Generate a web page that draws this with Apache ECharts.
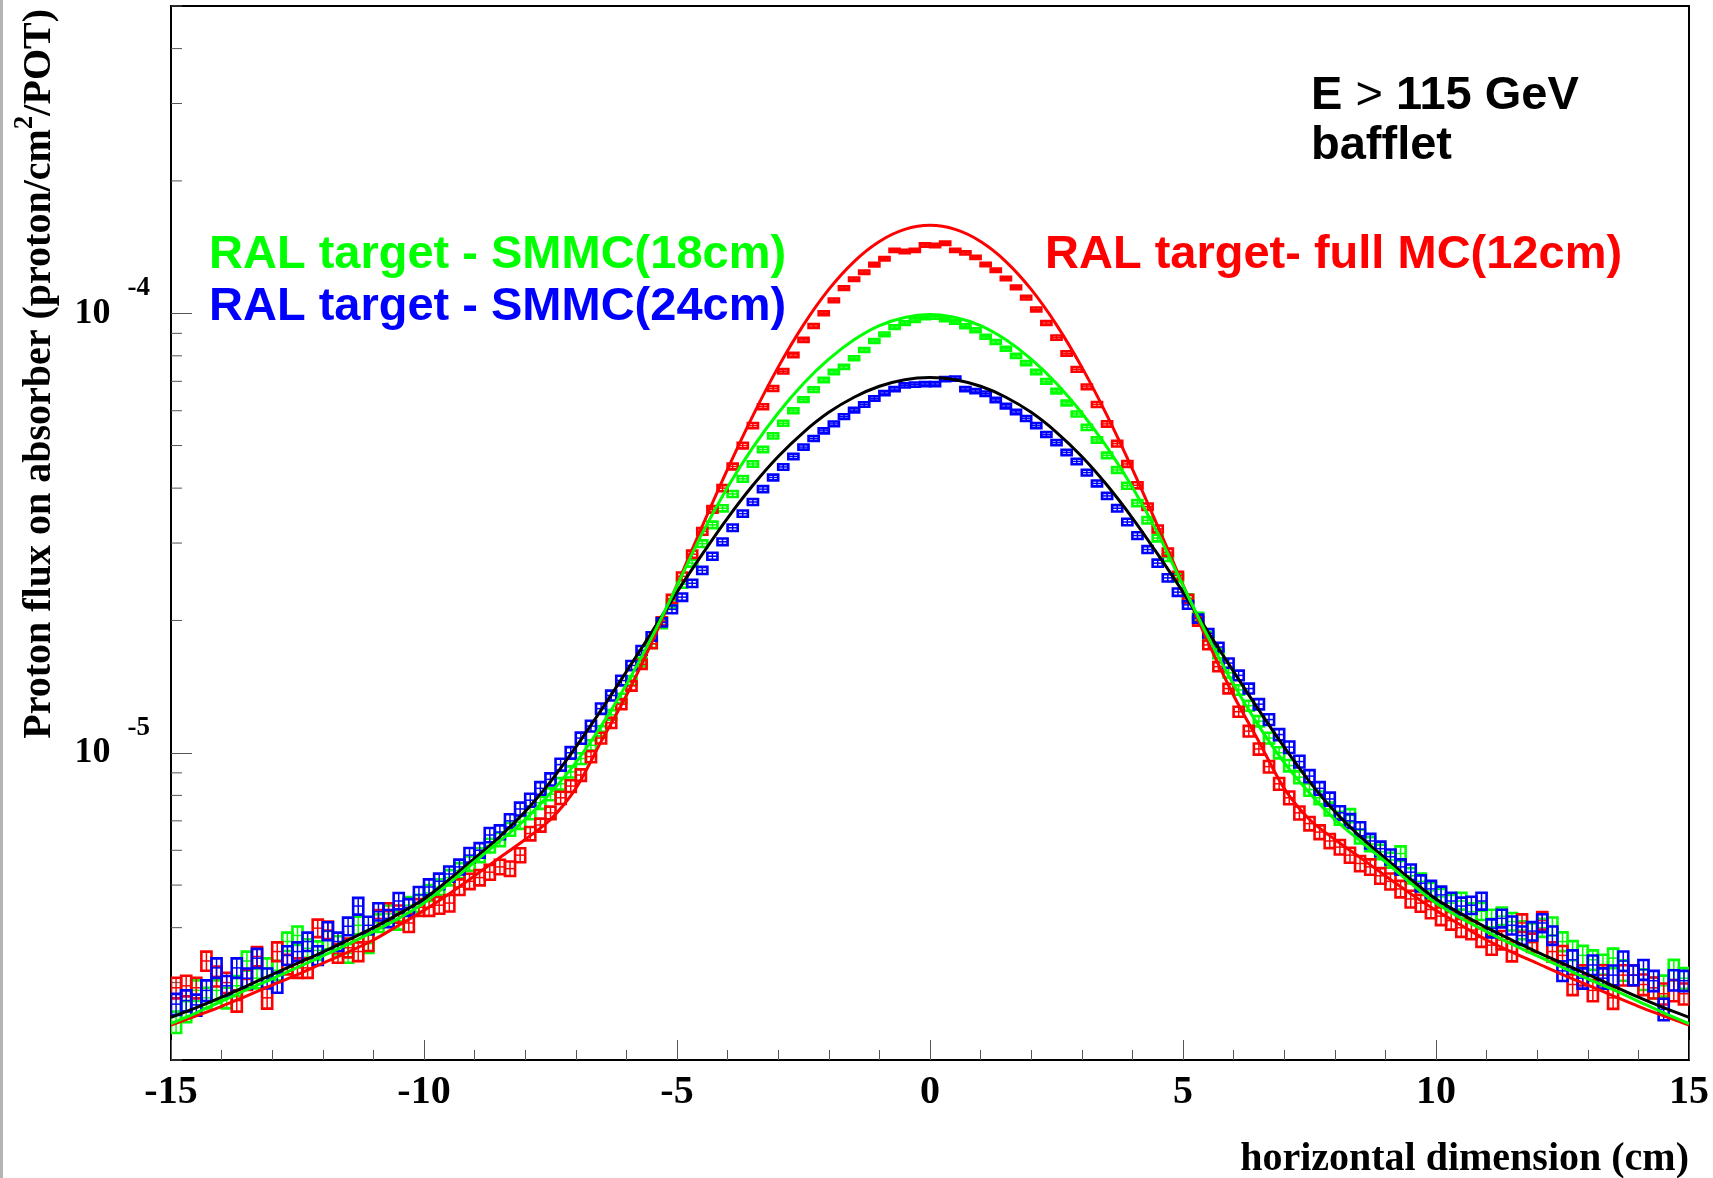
<!DOCTYPE html>
<html>
<head>
<meta charset="utf-8">
<title>Proton flux on absorber</title>
<script src="https://cdn.jsdelivr.net/npm/echarts@6/dist/echarts.min.js"></script>
<style>
    html, body {margin: 0; padding: 0; background: #fff;}
    #main {width: 1713px; height: 1178px;}
</style>
</head>
<body>
<div id="main"></div>
<script>
// histogram: 150 bins of 0.2 cm from -15 to 15 cm
const X_MIN = -15, X_MAX = 15, BIN_W = 0.2;
// all flux values below are in units of 1e-6 proton/cm2/POT
const UNIT = 1e-6;

// RAL target - SMMC(18cm)
const greenFlux = [
    2.44, 2.58, 2.88, 2.77, 2.88, 2.77, 2.95, 3.36, 3.07, 3.24, 3.2, 3.72, 3.84, 3.59, 3.55, 3.75, 3.65, 3.5, 4.05, 3.68,
    4.1, 4.3, 4.15, 4.5, 4.55,
    4.8, 4.95, 5.2, 5.4, 5.6, 5.85, 6.15, 6.35, 6.7, 6.95,
    7.3, 7.7, 8.05, 8.5, 9.05, 9.7, 10.4, 11.2, 12.2, 13.3,
    14.6, 16.1, 17.7, 19.6, 21.8, 24.2, 27.0, 29.9, 33.0, 36.0,
    38.8, 42.0, 45.4, 49.0, 52.6, 56.2, 60.0, 63.6, 67.0, 70.5,
    73.5, 75.5, 79.0, 82.5, 86.5, 89.5, 93.0, 95.0, 96.5, 97.8,
    98.1, 96.8, 95.6, 93.4, 91.5, 88.4, 86.0, 83.0, 80.0, 77.0,
    73.5, 70.0, 66.5, 62.5, 59.0, 55.0, 51.5, 47.5, 44.0, 40.5,
    37.0, 33.8, 30.8, 27.8, 25.0, 22.5, 20.4, 18.4, 16.8, 15.2,
    13.9, 12.8, 11.8, 10.8, 10.0, 9.35, 8.8, 8.25, 7.9, 7.45,
    7.1, 7.2, 6.45, 6.2, 5.95, 5.7, 5.9, 5.25, 5.1, 4.85,
    4.7, 4.55,
    4.6, 4.35, 4.36, 4.2, 4.25, 4.13, 3.95, 3.9, 4.0, 4.03, 3.72, 3.55, 3.46, 3.38, 3.3, 3.41, 3.2, 3.12, 3.05, 2.92, 2.95, 3.21, 3.07
];
const greenErrPct = [
    5.6, 5.5, 5.4, 5.4, 5.4, 5.4, 5.3, 5.0, 5.2, 5.1, 5.1, 4.8, 4.8, 4.9, 4.9, 4.8, 4.8, 4.9, 4.6, 4.8,
    4.6, 4.5, 4.6, 4.4, 4.4,
    4.2, 4.1, 4.0, 3.9, 3.8, 3.7, 3.6, 3.5, 3.4, 3.4,
    3.3, 3.2, 3.1, 3.0, 2.9, 2.8, 2.7, 2.6, 2.5, 2.4,
    2.3, 2.2, 2.1, 2.0, 1.95, 1.9, 1.8, 1.75, 1.7, 1.6,
    1.55, 1.5, 1.45, 1.4, 1.35, 1.3, 1.25, 1.2, 1.2, 1.15,
    1.1, 1.1, 1.05, 1.05, 1.0, 1.0, 1.0, 0.95, 0.95, 0.95,
    0.95, 0.95, 0.95, 1.0, 1.0, 1.0, 1.05, 1.05, 1.1, 1.1,
    1.15, 1.2, 1.2, 1.25, 1.3, 1.35, 1.4, 1.45, 1.5, 1.55,
    1.6, 1.7, 1.75, 1.8, 1.9, 2.0, 2.1, 2.2, 2.3, 2.4,
    2.5, 2.6, 2.7, 2.8, 2.9, 3.0, 3.1, 3.2, 3.3, 3.4,
    3.4, 3.4, 3.6, 3.7, 3.8, 3.9, 3.8, 4.0, 4.1, 4.2,
    4.3, 4.4,
    4.4, 4.5, 4.5, 4.6, 4.6, 4.6, 4.7, 4.8, 4.7, 4.7, 4.9, 5.0, 5.1, 5.1, 5.2, 5.1, 5.3, 5.3, 5.4, 5.5, 5.5, 5.3, 5.4
];

// RAL target- full MC(12cm)
const redFlux = [
    2.92, 2.95, 2.92, 3.36, 3.10, 3.0, 2.73, 3.05, 3.44, 2.77, 3.53, 3.3, 3.24, 3.24, 3.99, 3.95, 3.5, 3.6, 3.53, 3.72, 4.2,
    4.35, 4.3, 4.1, 4.45,
    4.45, 4.5, 4.55, 4.95, 5.1, 5.2, 5.35, 5.5, 5.45, 5.85,
    6.55, 6.85, 7.3, 7.9, 8.4, 8.9, 9.8, 10.8, 11.7, 12.9,
    14.2, 15.9, 17.7, 19.9, 22.4, 25.2, 28.3, 31.9, 35.8, 40.0,
    44.8, 50.0, 55.5, 61.3, 67.4, 73.8, 80.4, 87.0, 93.5, 100.0,
    107, 114, 119.5, 124, 129, 133, 139, 138.2, 139, 143,
    142.6, 144.3, 139.0, 137.2, 134.0, 129.1, 125.2, 120.0, 114.5, 108.5,
    102, 95.0, 88.0, 81.0, 74.5, 68.0, 62.0, 56.0, 50.5, 45.4,
    40.6, 36.3, 32.3, 28.6, 25.3, 22.4, 19.9, 17.6, 15.7, 14.0,
    12.4, 11.2, 10.2, 9.3, 8.5, 7.9, 7.3, 6.9, 6.6, 6.3,
    6.1, 5.85, 5.6, 5.5, 5.25, 5.1, 4.9, 4.65, 4.55, 4.4,
    4.25, 4.15,
    4.0, 3.95, 3.8, 3.65, 3.75, 3.53, 4.1, 3.7, 4.15, 3.53, 3.46, 2.97, 3.12, 2.88, 3.12, 2.77, 3.12, 3.12, 2.97, 2.92, 2.83, 2.88, 2.83
];
const redErrPct = [
    5.4, 5.4, 5.4, 5.0, 5.2, 5.3, 5.6, 5.3, 5.0, 5.5, 4.9, 5.1, 5.1, 5.1, 4.6, 4.6, 4.9, 4.9, 4.9, 4.8, 4.5,
    4.5, 4.5, 4.6, 4.4,
    4.4, 4.4, 4.3, 4.1, 4.0, 4.0, 3.9, 3.8, 3.8, 3.7,
    3.5, 3.4, 3.3, 3.2, 3.1, 3.0, 2.9, 2.8, 2.7, 2.6,
    2.5, 2.4, 2.3, 2.2, 2.1, 2.0, 1.9, 1.8, 1.7, 1.6,
    1.5, 1.45, 1.4, 1.3, 1.25, 1.2, 1.15, 1.1, 1.05, 1.0,
    0.95, 0.95, 0.9, 0.9, 0.9, 0.85, 0.85, 0.85, 0.85, 0.85,
    0.85, 0.85, 0.85, 0.85, 0.85, 0.9, 0.9, 0.9, 0.95, 0.95,
    1.0, 1.05, 1.1, 1.15, 1.2, 1.25, 1.3, 1.4, 1.45, 1.5,
    1.6, 1.7, 1.8, 1.9, 2.0, 2.1, 2.2, 2.3, 2.4, 2.5,
    2.6, 2.8, 2.9, 3.0, 3.1, 3.3, 3.4, 3.5, 3.6, 3.7,
    3.8, 3.9, 4.0, 4.0, 4.1, 4.2, 4.3, 4.4, 4.4, 4.5,
    4.6, 4.6,
    4.7, 4.7, 4.8, 4.9, 4.8, 5.0, 4.6, 4.8, 4.6, 5.0, 5.0, 5.4, 5.3, 5.5, 5.3, 5.6, 5.3, 5.3, 5.4, 5.5, 5.5, 5.5, 5.5
];

// RAL target - SMMC(24cm)
const blueFlux = [
    2.68, 2.73, 2.67, 2.88, 3.24, 2.95, 3.24, 3.07, 3.41, 3.07, 3.0, 3.46, 3.53, 3.72, 3.46, 3.93, 3.72, 4.03, 4.48, 4.05,
    4.35, 4.2, 4.6, 4.45, 4.75,
    4.95, 5.1, 5.3, 5.5, 5.85, 6.0, 6.5, 6.6, 7.0, 7.45,
    7.8, 8.3, 8.7, 9.4, 10.0, 10.8, 11.5, 12.6, 13.5, 14.6,
    15.8, 17.1, 18.4, 19.8, 21.2, 22.6, 24.3, 26.0, 28.0, 30.2,
    32.5, 35.0, 37.2, 39.8, 42.3, 44.7, 47.2, 49.6, 51.9, 54.0,
    56.0, 58.2, 60.2, 62.0, 64.0, 65.8, 67.2, 68.5, 68.8, 69.0,
    69.0, 70.8, 71.0, 67.2, 66.5, 65.6, 63.5, 61.5, 59.6, 57.6,
    55.5, 53.0, 50.8, 48.2, 46.0, 43.4, 41.0, 38.4, 36.0, 33.5,
    31.2, 29.0, 27.0, 25.0, 23.2, 21.7, 20.2, 18.7, 17.4, 16.0,
    15.0, 14.0, 12.9, 11.9, 11.0, 10.3, 9.55, 8.85, 8.3, 7.85,
    7.3, 7.0, 6.7, 6.3, 6.05, 5.8, 5.5, 5.35, 5.05, 4.9,
    4.75, 4.6,
    4.48, 4.5, 4.6, 3.99, 4.2, 4.05, 3.84, 3.93, 4.1, 3.84, 3.19, 3.38, 3.07, 3.29, 3.07, 3.12, 3.36, 3.12, 3.21, 3.03, 2.61, 3.04, 3.03
];
const blueErrPct = [
    5.5, 5.5, 5.5, 5.4, 5.1, 5.3, 5.1, 5.2, 5.0, 5.2, 5.2, 4.9, 4.9, 4.8, 4.9, 4.7, 4.8, 4.6, 4.4, 4.6,
    4.5, 4.5, 4.3, 4.4, 4.2,
    4.1, 4.1, 4.0, 3.9, 3.8, 3.8, 3.7, 3.6, 3.5, 3.4,
    3.4, 3.3, 3.2, 3.1, 3.0, 2.9, 2.8, 2.7, 2.6, 2.5,
    2.4, 2.3, 2.2, 2.1, 2.0, 1.95, 1.9, 1.85, 1.8, 1.75,
    1.7, 1.65, 1.6, 1.55, 1.5, 1.45, 1.4, 1.35, 1.3, 1.3,
    1.25, 1.2, 1.2, 1.15, 1.15, 1.1, 1.1, 1.1, 1.1, 1.1,
    1.1, 1.1, 1.1, 1.1, 1.1, 1.15, 1.15, 1.2, 1.2, 1.25,
    1.3, 1.3, 1.35, 1.4, 1.45, 1.5, 1.55, 1.6, 1.65, 1.7,
    1.75, 1.8, 1.85, 1.9, 1.95, 2.0, 2.1, 2.2, 2.3, 2.4,
    2.5, 2.6, 2.7, 2.8, 2.9, 3.0, 3.1, 3.2, 3.3, 3.4,
    3.5, 3.6, 3.7, 3.8, 3.8, 3.9, 4.0, 4.1, 4.2, 4.3,
    4.4, 4.4,
    4.5, 4.5, 4.4, 4.7, 4.6, 4.7, 4.8, 4.8, 4.7, 4.8, 5.2, 5.1, 5.3, 5.1, 5.3, 5.2, 5.1, 5.2, 5.2, 5.3, 5.6, 5.3, 5.3
];

// fitted curves, read every 0.5 cm
const fitX = [
    -15, -14.5, -14, -13.5, -13, -12.5, -12, -11.5, -11, -10.5, -10, -9.5, -9, -8.5, -8, -7.5, -7, -6.5, -6, -5.5,
    -5, -4.5, -4, -3.5, -3, -2.5, -2, -1.5, -1, -0.5, 0, 0.5, 1, 1.5, 2, 2.5, 3, 3.5, 4, 4.5,
    5, 5.5, 6, 6.5, 7, 7.5, 8, 8.5, 9, 9.5, 10, 10.5, 11, 11.5, 12, 12.5, 13, 13.5, 14, 14.5, 15
];
const fitRed = [
    2.4, 2.52, 2.65, 2.8, 2.96, 3.13, 3.32, 3.52, 3.75, 4.05, 4.38, 4.78, 5.25, 5.78, 6.35, 7.05, 8.3, 10.6, 13.5, 17.8,
    24.1, 32.8, 44.2, 58.5, 75.4, 94.1, 113.3, 131.1, 145.6, 155.1, 158.5, 155.1, 145.6, 131.1, 113.3, 94.1, 75.4, 58.5, 44.2, 32.8,
    24.1, 17.8, 13.5, 10.6, 8.3, 7.05, 6.35, 5.78, 5.25, 4.78, 4.38, 4.05, 3.75, 3.52, 3.32, 3.13, 2.96, 2.8, 2.65, 2.52, 2.4
];
const fitGreen = [
    2.42, 2.56, 2.72, 2.89, 3.06, 3.25, 3.45, 3.67, 3.92, 4.2, 4.55, 5.05, 5.65, 6.3, 7.05, 8.1, 9.5, 11.5, 14.3, 18.3,
    24.0, 31.6, 40.2, 49.5, 59.3, 69.2, 78.6, 87.0, 93.7, 97.8, 99.3, 97.8, 93.7, 87.0, 78.6, 69.2, 59.3, 49.5, 40.2, 31.6,
    24.0, 18.3, 14.3, 11.5, 9.5, 8.1, 7.05, 6.3, 5.65, 5.05, 4.55, 4.2, 3.92, 3.67, 3.45, 3.25, 3.06, 2.89, 2.72, 2.56, 2.42
];
const fitBlack = [
    2.5, 2.63, 2.78, 2.95, 3.13, 3.32, 3.52, 3.75, 4.0, 4.3, 4.65, 5.15, 5.75, 6.45, 7.35, 8.6, 10.3, 12.5, 15.3, 18.8,
    23.2, 28.3, 34.2, 40.6, 47.2, 53.6, 59.5, 64.4, 68.2, 70.6, 71.4, 70.6, 68.2, 64.4, 59.5, 53.6, 47.2, 40.6, 34.2, 28.3,
    23.2, 18.8, 15.3, 12.5, 10.3, 8.6, 7.35, 6.45, 5.75, 5.15, 4.65, 4.3, 4.0, 3.75, 3.52, 3.32, 3.13, 2.95, 2.78, 2.63, 2.5
];

// log axis minor ticks (2..9 x 10^n)
const yMinorTicks = [
    2e-6, 3e-6, 4e-6, 5e-6, 6e-6, 7e-6, 8e-6, 9e-6,
    2e-5, 3e-5, 4e-5, 5e-5, 6e-5, 7e-5, 8e-5, 9e-5,
    2e-4, 3e-4, 4e-4, 5e-4
];

const SERIF = '"Liberation Serif", "DejaVu Serif", serif';
const SANS = '"Liberation Sans", Arial, sans-serif';

const binCenters = greenFlux.map((_, i) => X_MIN + BIN_W * (i + 0.5));

const toBoxes = (flux, errPct) => flux.map((v, i) => [binCenters[i], v * UNIT, v * UNIT * errPct[i] / 100]);
const toLine = vals => vals.map((v, i) => [fitX[i], v * UNIT]);

// error box: outline + vertical error bar + horizontal bin line
const boxRenderer = color => (params, api) => {
    const x = api.value(0), y = api.value(1), e = api.value(2);
    const tl = api.coord([x - BIN_W / 2, y + e]);
    const br = api.coord([x + BIN_W / 2, y - e]);
    const c = api.coord([x, y]);
    return {
        type: 'group',
        children: [
            {type: 'rect', shape: {x: tl[0], y: tl[1], width: br[0] - tl[0], height: br[1] - tl[1]},
                style: {stroke: color, lineWidth: 2.6, fill: 'none'}},
            {type: 'line', shape: {x1: c[0], y1: tl[1], x2: c[0], y2: br[1]}, style: {stroke: color, lineWidth: 1.5}},
            {type: 'line', shape: {x1: tl[0], y1: c[1], x2: br[0], y2: c[1]}, style: {stroke: color, lineWidth: 1.5}}
        ]
    };
};

const boxSeries = (flux, errPct, color, z) => ({
    type: 'custom',
    coordinateSystem: 'cartesian2d',
    data: toBoxes(flux, errPct),
    encode: {x: 0, y: 1},
    renderItem: boxRenderer(color),
    clip: true,
    silent: true,
    z
});

const fitSeries = (vals, color, z) => ({
    type: 'line',
    data: toLine(vals),
    smooth: 0.3,
    showSymbol: false,
    lineStyle: {color, width: 3},
    clip: true,
    silent: true,
    z
});

let chart = echarts.init(document.getElementById('main'), null, {renderer: 'canvas'});

let option = {
    animation: false,
    backgroundColor: '#fff',
    grid: {
        left: 171, right: 24, top: 6, bottom: 118,
        show: true, borderColor: '#000', borderWidth: 2,
        outerBoundsMode: 'none'
    },
    xAxis: {
        type: 'value',
        min: X_MIN, max: X_MAX, interval: 5,
        name: 'horizontal dimension (cm)',
        nameLocation: 'end',
        nameGap: 0,
        nameMoveOverlap: false,
        nameTextStyle: {
            fontFamily: SERIF, fontWeight: 'bold', fontSize: 40, color: '#000',
            align: 'right', verticalAlign: 'top', padding: [80, 0, 0, 0]
        },
        axisLine: {onZero: false, lineStyle: {color: '#000', width: 2}},
        axisTick: {inside: true, length: 20, lineStyle: {color: '#555', width: 1}},
        minorTick: {show: true, splitNumber: 5, length: 10, lineStyle: {color: '#555', width: 1}},
        splitLine: {show: false},
        axisLabel: {
            margin: 13,
            fontFamily: SERIF, fontWeight: 'bold', fontSize: 40, color: '#000'
        }
    },
    yAxis: {
        type: 'log',
        logBase: 10,
        min: 2e-6, max: 5e-4,
        name: 'Proton flux on absorber (proton/cm{s|2}/POT)',
        nameLocation: 'end',
        nameRotate: 90,
        nameGap: -3,
        nameMoveOverlap: false,
        nameTextStyle: {
            fontFamily: SERIF, fontWeight: 'bold', fontSize: 40, color: '#000',
            align: 'right', verticalAlign: 'bottom', padding: [0, 0, 104, 0],
            rich: {
                s: {fontFamily: SERIF, fontWeight: 'bold', fontSize: 27, color: '#000', padding: [0, 0, 28, 0]}
            }
        },
        axisLine: {show: true, onZero: false, lineStyle: {color: '#000', width: 2}},
        axisTick: {inside: true, length: 21, lineStyle: {color: '#555', width: 1}},
        splitLine: {show: false},
        axisLabel: {
            margin: 21,
            showMinLabel: false,
            showMaxLabel: false,
            formatter: v => {
                const p = Math.round(Math.log10(v));
                return Math.abs(Math.log10(v) - p) < 1e-6 ? '{b|10}{s|' + p + '}' : '';
            },
            rich: {
                b: {fontFamily: SERIF, fontWeight: 'bold', fontSize: 36, color: '#000'},
                s: {fontFamily: SERIF, fontWeight: 'bold', fontSize: 27, color: '#000', padding: [0, 0, 50, 17]}
            }
        }
    },
    series: [
        // minor ticks on the log axis
        {
            type: 'custom',
            coordinateSystem: 'cartesian2d',
            data: yMinorTicks.map(v => [X_MIN, v]),
            encode: {x: 0, y: 1},
            renderItem: (params, api) => {
                const p = api.coord([api.value(0), api.value(1)]);
                return {type: 'line', shape: {x1: p[0], y1: p[1], x2: p[0] + 11, y2: p[1]},
                    style: {stroke: '#555', lineWidth: 1}};
            },
            silent: true,
            z: 1
        },
        boxSeries(greenFlux, greenErrPct, '#00ff00', 2),
        boxSeries(redFlux, redErrPct, '#ff0000', 3),
        boxSeries(blueFlux, blueErrPct, '#0000ff', 4),
        fitSeries(fitRed, '#ff0000', 5),
        fitSeries(fitBlack, '#000000', 6),
        fitSeries(fitGreen, '#00ff00', 7)
    ],
    graphic: [
        {type: 'line', shape: {x1: 1.5, y1: 0, x2: 1.5, y2: 1178}, style: {stroke: '#b4b4b4', lineWidth: 3}, silent: true},
        {
            type: 'text', x: 1311, y: 96,
            style: {
                text: 'E {g|>} 115 GeV', fill: '#000',
                fontFamily: SANS, fontWeight: 'bold', fontSize: 47,
                align: 'left', verticalAlign: 'middle',
                rich: {g: {fontFamily: SANS, fontWeight: 'normal', fontSize: 47, fill: '#000'}}
            }
        },
        {
            type: 'text', x: 1311, y: 146,
            style: {text: 'bafflet', fill: '#000', fontFamily: SANS, fontWeight: 'bold', fontSize: 47, align: 'left', verticalAlign: 'middle'}
        },
        {
            type: 'text', x: 209, y: 255,
            style: {text: 'RAL target - SMMC(18cm)', fill: '#00ff00', fontFamily: SANS, fontWeight: 'bold', fontSize: 47, align: 'left', verticalAlign: 'middle'}
        },
        {
            type: 'text', x: 209, y: 307,
            style: {text: 'RAL target - SMMC(24cm)', fill: '#0000ff', fontFamily: SANS, fontWeight: 'bold', fontSize: 47, align: 'left', verticalAlign: 'middle'}
        },
        {
            type: 'text', x: 1045, y: 255,
            style: {text: 'RAL target- full MC(12cm)', fill: '#ff0000', fontFamily: SANS, fontWeight: 'bold', fontSize: 47, align: 'left', verticalAlign: 'middle'}
        }
    ]
};

chart.setOption(option);
</script>
</body>
</html>
